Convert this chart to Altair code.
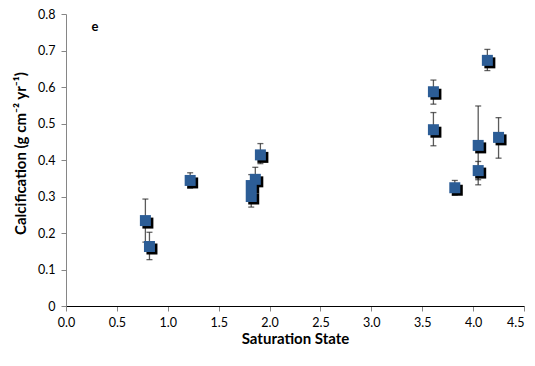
import altair as alt
import pandas as pd

# Data (Saturation State vs Calcification)
sat  = [0.78, 0.82, 1.22, 1.82, 1.82, 1.86, 1.91, 3.61, 3.61, 3.82, 4.05, 4.05, 4.25, 4.14]
calc = [0.234, 0.163, 0.344, 0.330, 0.300, 0.347, 0.414, 0.587, 0.483, 0.324, 0.440, 0.371, 0.462, 0.673]
err_lo = [0.175, 0.127, 0.323, 0.300, 0.271, 0.314, 0.390, 0.553, 0.439, 0.304, 0.332, 0.346, 0.405, 0.645]
err_hi = [0.293, 0.202, 0.365, 0.360, 0.330, 0.380, 0.445, 0.619, 0.530, 0.344, 0.548, 0.396, 0.516, 0.703]

x_ticks = [0.0, 0.5, 1.0, 1.5, 2.0, 2.5, 3.0, 3.5, 4.0, 4.5]
y_ticks = [0.0, 0.1, 0.2, 0.3, 0.4, 0.5, 0.6, 0.7, 0.8]

df = pd.DataFrame({"sat": sat, "calc": calc, "lo": err_lo, "hi": err_hi})

FONT = "Lato"
xsc = alt.Scale(domain=[0, 4.5], nice=False, zero=False)
ysc = alt.Scale(domain=[0, 0.8], nice=False, zero=False)

xax = alt.Axis(values=x_ticks, format=".1f", title="Saturation State",
               domainColor="black", tickColor="#868686", tickSize=5,
               labelPadding=5, labelFlush=False, titlePadding=3, grid=False,
               labelAlign={"condition": {"test": "datum.value >= 4.5", "value": "right"},
                           "value": "center"})
yax = alt.Axis(values=y_ticks, title="Calcification (g cm⁻² yr⁻¹)",
               labelExpr="datum.value == 0 ? '0' : format(datum.value, '.1f')",
               domainColor="#868686", tickColor="#868686", tickSize=5,
               labelPadding=6, labelFlush=False, grid=False,
               titleAngle=270, titleBaseline="middle", titleAlign="center",
               titleX=-46, titleY=139)

X = alt.X("sat:Q", scale=xsc, axis=xax)

base = alt.Chart(df)

rules = base.mark_rule(color="#5a5a5a", strokeWidth=1.3).encode(
    x=X, y=alt.Y("lo:Q", scale=ysc, axis=yax), y2="hi:Q")
cap_lo = base.mark_tick(orient="horizontal", size=6, thickness=1.3, color="#222222").encode(
    x=X, y=alt.Y("lo:Q", scale=ysc, axis=yax))
cap_hi = base.mark_tick(orient="horizontal", size=6, thickness=1.3, color="#222222").encode(
    x=X, y=alt.Y("hi:Q", scale=ysc, axis=yax))
shadow = base.mark_square(size=121, color="black", opacity=1, xOffset=2.5, yOffset=2.5).encode(
    x=X, y=alt.Y("calc:Q", scale=ysc, axis=yax))
pts = base.mark_square(size=121, color="#2C5D96", opacity=1).encode(
    x=X, y=alt.Y("calc:Q", scale=ysc, axis=yax))

label = alt.Chart(pd.DataFrame({"t": ["e"]})).mark_text(
    font=FONT, fontWeight="bold", fontSize=13, color="black").encode(
    text="t:N", x=alt.value(29), y=alt.value(13))

chart = alt.layer(rules, cap_lo, cap_hi, shadow, pts, label).properties(
    width=458, height=292,
    autosize=alt.AutoSizeParams(type="none"),
    padding={"left": 58, "top": 6, "right": 3, "bottom": 44},
).configure_view(stroke=None).configure_axis(
    labelFont=FONT, labelFontSize=12.5, labelColor="black",
    titleFont=FONT, titleFontSize=15, titleFontWeight="bold", titleColor="black",
)

chart.save("out.html", embed_options={"renderer": "svg", "actions": False})
